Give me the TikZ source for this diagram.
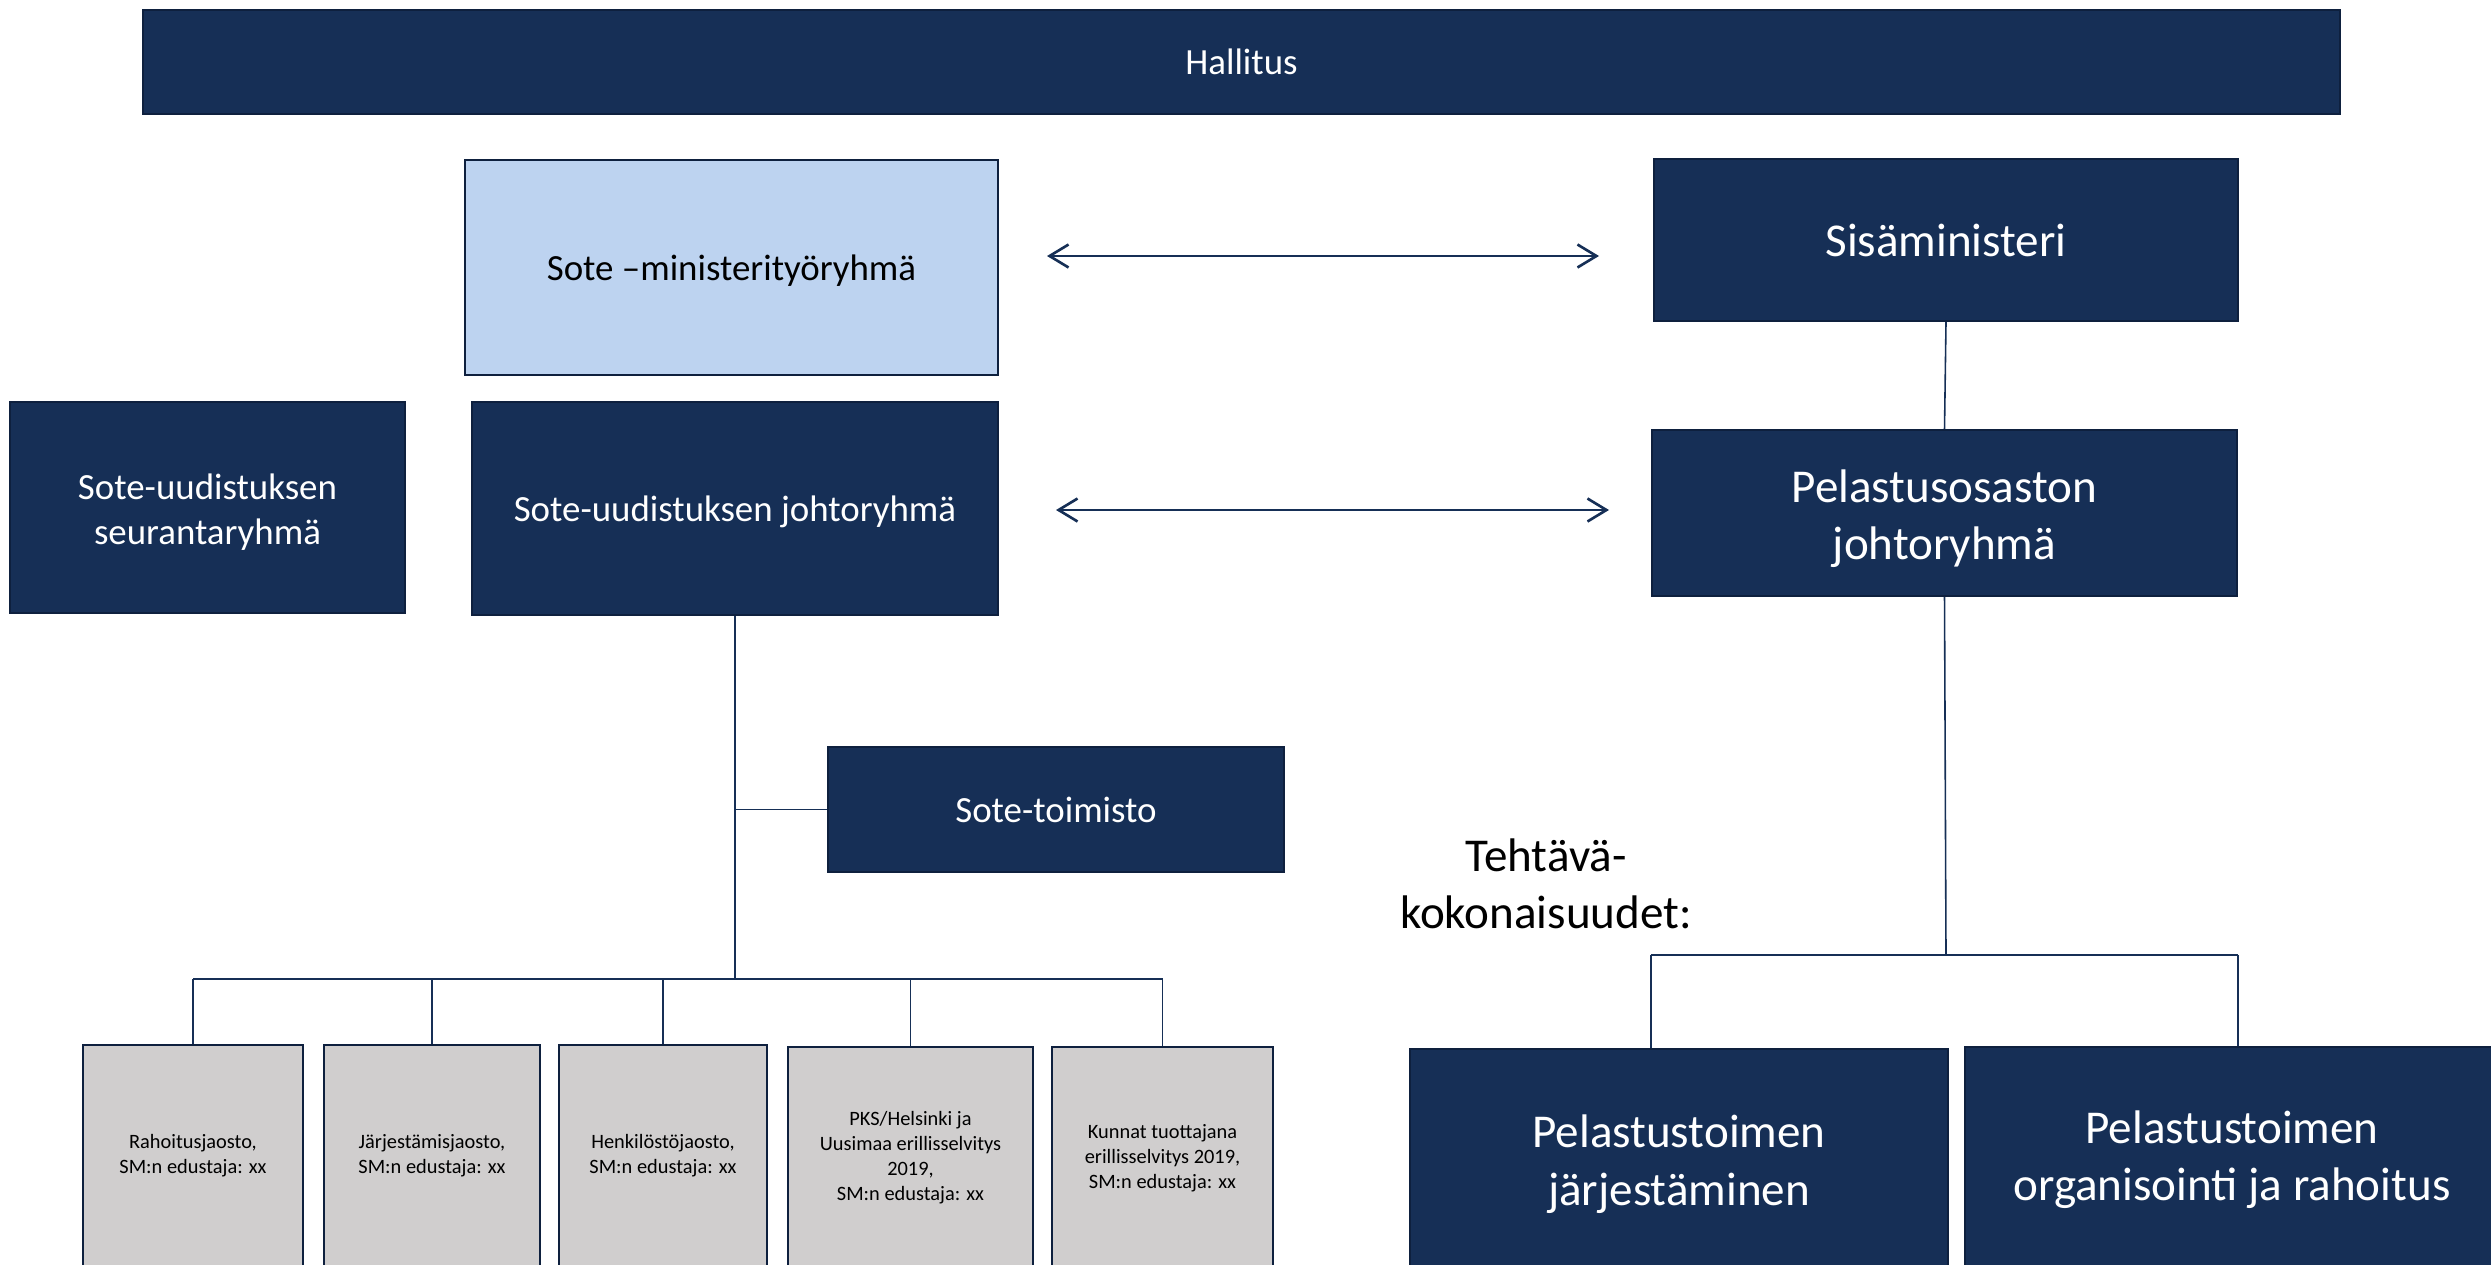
\documentclass[tikz,border=0pt]{standalone}
\usepackage{fontspec}
\setmainfont{Carlito}
\usetikzlibrary{arrows.meta}

\definecolor{navy}{RGB}{22,47,86}
\definecolor{navyedge}{RGB}{14,32,62}
\definecolor{lightblue}{RGB}{189,211,240}
\definecolor{greyfill}{RGB}{208,206,206}

% extra room above the first line of a text
\newcommand{\topgap}[1][1.3em]{\rule[-0.27em]{0pt}{#1}}

\tikzset{
  box/.style={draw=navyedge, line width=0.6pt, inner sep=2pt, align=center,
    execute at begin node={\rule[-0.27em]{0pt}{1.22em}},
    execute at end node={\rule[-0.27em]{0pt}{1.22em}}},
  darkbox/.style={box, fill=navy, text=white, font=\fontsize{10.5}{12.8}\selectfont},
  bigbox/.style={darkbox, font=\fontsize{13.4}{16.3}\selectfont},
  greybox/.style={box, fill=greyfill, text=black, font=\fontsize{5.8}{7.1}\selectfont, minimum height=2.24cm},
  link/.style={draw=navy, line width=0.45pt},
  twoway/.style={draw=navy, line width=0.75pt, {Straight Barb[length=1.9mm,width=2.3mm]}-{Straight Barb[length=1.9mm,width=2.3mm]}}
}

\begin{document}
\begin{tikzpicture}
  \useasboundingbox (0,0) rectangle (24.91,-12.64);

  % Top level
  \node[darkbox, minimum width=21.97cm, minimum height=1.04cm] (hallitus) at (12.415,-0.62) {Hallitus};

  % Ministers
  \node[box, fill=lightblue, font=\fontsize{10.5}{12.8}\selectfont, minimum width=5.33cm, minimum height=2.15cm] (ministeri) at (7.315,-2.675) {Sote –ministerityöryhmä};
  \node[bigbox, minimum width=5.84cm, minimum height=1.62cm] (sisamin) at (19.46,-2.40) {Sisäministeri};

  % Steering groups
  \node[darkbox, minimum width=3.95cm, minimum height=2.11cm] (seuranta) at (2.075,-5.075) {\topgap Sote-uudistuksen\\seurantaryhmä};
  \node[darkbox, minimum width=5.26cm, minimum height=2.13cm] (johto) at (7.35,-5.085) {Sote-uudistuksen johtoryhmä};
  \node[bigbox, minimum width=5.85cm, minimum height=1.66cm] (pelastus) at (19.445,-5.13) {\topgap Pelastusosaston\\johtoryhmä};

  % Office
  \node[darkbox, minimum width=4.56cm, minimum height=1.25cm] (toimisto) at (10.56,-8.095) {Sote-toimisto};

  % Sections
  \node[greybox, minimum width=2.20cm] (g1) at (1.93,-11.57) {Rahoitusjaosto,\\SM:n edustaja: xx};
  \node[greybox, minimum width=2.16cm] (g2) at (4.32,-11.57) {Järjestämisjaosto,\\SM:n edustaja: xx};
  \node[greybox, minimum width=2.08cm] (g3) at (6.63,-11.57) {Henkilöstöjaosto,\\SM:n edustaja: xx};
  \node[greybox, minimum width=2.45cm] (g4) at (9.105,-11.59) {PKS/Helsinki ja\\Uusimaa erillisselvitys\\2019,\\SM:n edustaja: xx};
  \node[greybox, minimum width=2.21cm] (g5) at (11.625,-11.59) {Kunnat tuottajana\\erillisselvitys 2019,\\SM:n edustaja: xx};

  % Task areas
  \node[align=center, font=\fontsize{13.4}{16.3}\selectfont] (tehtava) at (15.46,-8.84) {Tehtävä-\\kokonaisuudet:};
  \node[bigbox, minimum width=5.38cm, minimum height=2.26cm] (pj) at (16.79,-11.62) {\topgap[1.15em]Pelastustoimen\\järjestäminen};
  \node[bigbox, minimum width=5.34cm, minimum height=2.30cm] (por) at (22.32,-11.62) {Pelastustoimen\\organisointi ja rahoitus};

  % Two-way arrows
  \coordinate (a1) at (10.47,-2.56);
  \coordinate (b1) at (15.99,-2.56);
  \coordinate (a2) at (10.56,-5.10);
  \coordinate (b2) at (16.09,-5.10);
  \draw[twoway] (a1) -- (b1);
  \draw[twoway] (a2) -- (b2);

  % Sote tree
  \coordinate (sbus) at (7.35,-9.79);
  \draw[link] (johto.south) -- (sbus);
  \draw[link] (johto.south |- toimisto.west) -- (toimisto.west);
  \draw[link] (g1.north |- sbus) -- (g5.north |- sbus);
  \foreach \g in {g1,g2,g3,g4,g5}
    \draw[link] (\g.north) -- (\g.north |- sbus);

  % Rescue tree
  \coordinate (pbus) at (19.46,-9.55);
  \draw[link] (sisamin.south) -- (pelastus.north);
  \draw[link] (pelastus.south) -- (pbus);
  \draw[link] (pelastus.west |- pbus) -- (pelastus.east |- pbus);
  \draw[link] (pelastus.west |- pbus) -- (pelastus.west |- pj.north);
  \draw[link] (pelastus.east |- pbus) -- (pelastus.east |- por.north);
\end{tikzpicture}
\end{document}
